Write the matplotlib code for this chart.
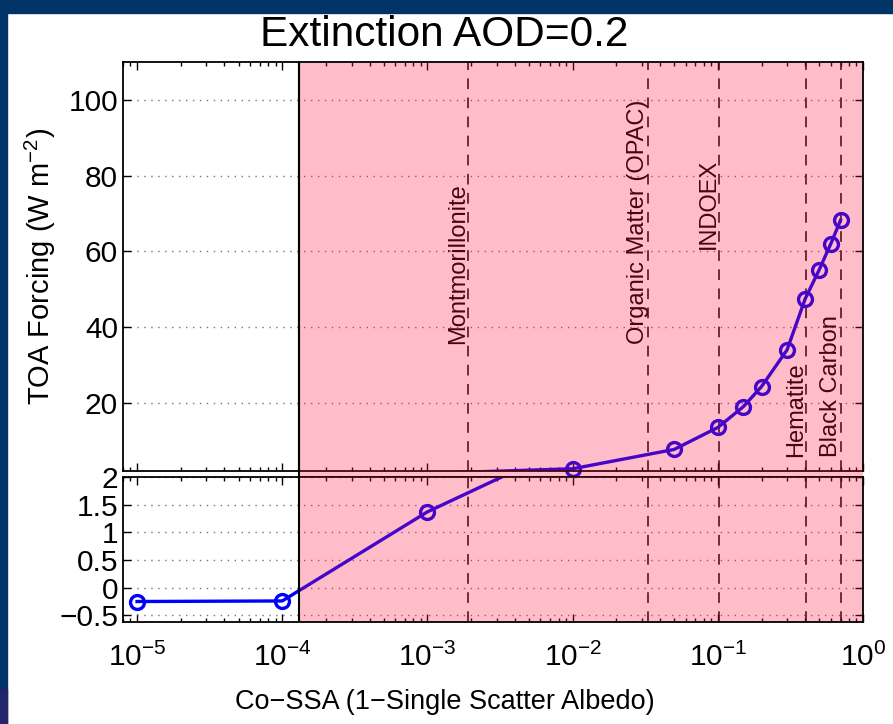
import math
import matplotlib
matplotlib.use('Agg')
import matplotlib.pyplot as plt
import matplotlib.transforms as mtransforms
from matplotlib.patches import Rectangle
from matplotlib.ticker import FixedLocator, FuncFormatter, LogLocator, NullFormatter

plt.rcParams['font.family'] = ['Liberation Sans', 'DejaVu Sans']
plt.rcParams['mathtext.fontset'] = 'custom'
plt.rcParams['mathtext.rm'] = 'Liberation Sans'
plt.rcParams['mathtext.it'] = 'Liberation Sans:italic'
plt.rcParams['mathtext.default'] = 'regular'

# forcing curve vs co-single-scatter albedo
co_ssa = [1e-5, 1e-4, 1e-3, 1e-2, 0.05, 0.1, 0.15, 0.2, 0.3, 0.4, 0.5, 0.6, 0.7]
forcing = [-0.25, -0.24, 1.37, 2.6, 7.7, 13.5, 19.0, 24.3, 34.0, 47.5, 55.2, 62.0, 68.2]

# reference aerosol types
aerosol_names = ['Montmorillonite', 'Organic Matter (OPAC)', 'INDOEX',
                 'Hematite', 'Black Carbon']
aerosol_co_ssa = [1.9e-3, 0.033, 0.102, 0.405, 0.71]
aerosol_label_y = [35.5, 35.5, 60.5, 5.7, 5.7]

absorbing_start = 1.3e-4
x_range = (8e-6, 1.0)
top_ylim = (2, 110)
bot_ylim = (-0.62, 2)
top_yticks = [20, 40, 60, 80, 100]
bot_yticks = [-0.5, 0, 0.5, 1, 1.5, 2]

navy = '#003366'
blue = (0, 0, 1)
pink_tint = (1.0, 0.08, 0.24)
pink_alpha = 0.28

fig = plt.figure(figsize=(8.93, 7.24), dpi=100)
fig.patch.set_facecolor('white')
fig.patches.append(Rectangle((0, 1 - 13 / 724), 1, 13 / 724, transform=fig.transFigure,
                             color=navy, zorder=0))
fig.patches.append(Rectangle((0, 0), 7 / 893, 1, transform=fig.transFigure,
                             color=navy, zorder=0))
fig.patches.append(Rectangle((0, 0), 7 / 893, 35 / 724, transform=fig.transFigure,
                             color='#23266b', zorder=0))

ax_top = fig.add_axes([0.1377, 0.3494, 0.8287, 0.5649])
ax_bot = fig.add_axes([0.1377, 0.1409, 0.8287, 0.2003])


def fmt_num(v, pos=None):
    return '{:g}'.format(v).replace('-', '\u2212')


def decade_label(v, pos=None):
    return '$10^{%d}$' % round(math.log10(v))


for ax, ylim, yticks in [(ax_top, top_ylim, top_yticks), (ax_bot, bot_ylim, bot_yticks)]:
    ax.set_xscale('log')
    ax.set_xlim(*x_range)
    ax.set_ylim(*ylim)
    ax.xaxis.set_major_locator(LogLocator(base=10, numticks=10))
    ax.xaxis.set_minor_locator(LogLocator(base=10, subs=range(2, 10), numticks=10))
    ax.xaxis.set_minor_formatter(NullFormatter())
    ax.yaxis.set_major_locator(FixedLocator(yticks))
    ax.yaxis.set_major_formatter(FuncFormatter(fmt_num))
    ax.tick_params(which='both', direction='in', top=True, right=True, width=1)
    ax.tick_params(which='major', length=6, labelsize=21.5)
    ax.tick_params(which='minor', length=3)
    ax.yaxis.grid(True, linestyle=(0, (1, 4)), color='0.45', linewidth=1)
    for side in ['left', 'right', 'top', 'bottom']:
        ax.spines[side].set_linewidth(1.3)

    # reference aerosol lines
    for xv in aerosol_co_ssa:
        ax.axvline(xv, color='k', linestyle=(0, (7, 5.5)), linewidth=1.1, zorder=2)

    # forcing curve, markers kept whole at the axis edges
    ax.plot(co_ssa, forcing, '-', color=blue, linewidth=2.4, zorder=2.2)
    pts = [(x, y) for x, y in zip(co_ssa, forcing) if ylim[0] <= y <= ylim[1]]
    ax.plot([p[0] for p in pts], [p[1] for p in pts], 'o', color=blue,
            markerfacecolor='none', markeredgewidth=2.4, markersize=10,
            zorder=2.2, clip_on=False)

    # absorbing region overlay
    span = ax.axvspan(absorbing_start, x_range[1], color=pink_tint, alpha=pink_alpha,
                      linewidth=0, zorder=3)
    ax.axvline(absorbing_start, color='k', linewidth=1.5, zorder=4)
    if ax is ax_top:
        span.set_y(-0.03)
        span.set_height(1.03)
        span.set_clip_on(False)
        ax.axvline(absorbing_start, ymin=-0.03, ymax=1, color='k', linewidth=1.5,
                   zorder=4, clip_on=False)

ax_top.tick_params(axis='x', which='both', labelbottom=False)
ax_top.spines['top'].set_zorder(4)
ax_top.spines['right'].set_zorder(4)
ax_bot.spines['bottom'].set_zorder(4)
ax_bot.spines['right'].set_zorder(4)
ax_bot.xaxis.set_major_formatter(FuncFormatter(decade_label))
ax_bot.tick_params(axis='x', which='major', pad=15)

shift = mtransforms.offset_copy(ax_top.transData, fig=fig, x=1, y=0, units='dots')
for name, xv, yv in zip(aerosol_names, aerosol_co_ssa, aerosol_label_y):
    ax_top.text(xv, yv, name, rotation=90, ha='right', va='bottom', fontsize=17,
                color='k', transform=shift, zorder=2)

fig.text(0.497, 0.951, 'Extinction AOD=0.2', ha='center', va='center', fontsize=30.5)
fig.text(0.0448, 0.6326, 'TOA Forcing (W m$^{-2}$)', rotation=90, ha='center',
         va='center', fontsize=21)
fig.text(0.498, 0.031, 'Co\u2212SSA (1\u2212Single Scatter Albedo)', ha='center',
         va='center', fontsize=19.5)

fig.savefig('out.png', dpi=100)
